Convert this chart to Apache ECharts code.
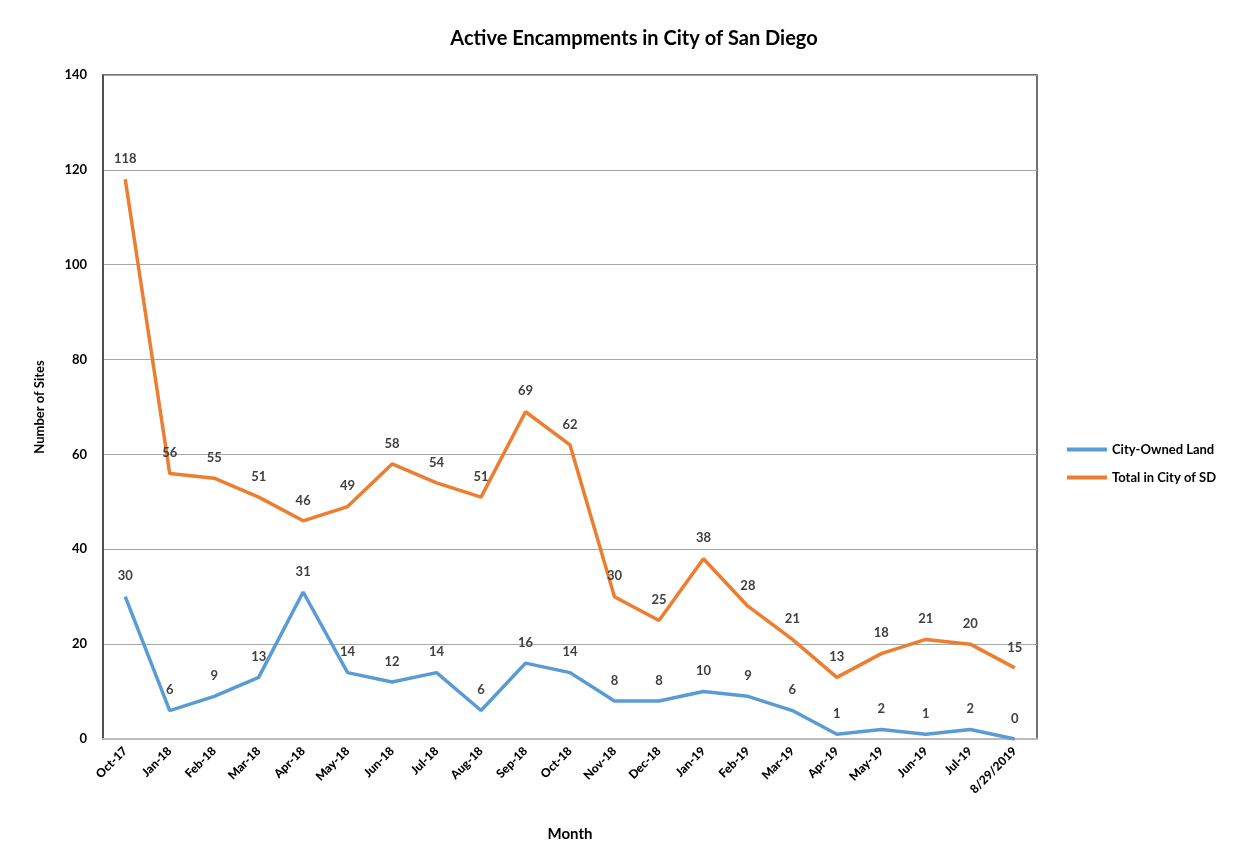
<!DOCTYPE html>
<html>
<head>
<meta charset="utf-8">
<script src="https://cdn.jsdelivr.net/npm/echarts@6/dist/echarts.min.js"></script>
<style>
  html, body { margin: 0; padding: 0; background: #fff; }
  #main { width: 1237px; height: 867px; }
</style>
</head>
<body>
<div id="main"></div>
<script>
// 月份
const months = ['Oct-17', 'Jan-18', 'Feb-18', 'Mar-18', 'Apr-18', 'May-18', 'Jun-18', 'Jul-18',
  'Aug-18', 'Sep-18', 'Oct-18', 'Nov-18', 'Dec-18', 'Jan-19', 'Feb-19', 'Mar-19', 'Apr-19',
  'May-19', 'Jun-19', 'Jul-19', '8/29/2019']

const cityOwned = [30, 6, 9, 13, 31, 14, 12, 14, 6, 16, 14, 8, 8, 10, 9, 6, 1, 2, 1, 2, 0]
const totalSD = [118, 56, 55, 51, 46, 49, 58, 54, 51, 69, 62, 30, 25, 38, 28, 21, 13, 18, 21, 20, 15]

let chart = echarts.init(document.querySelector('#main'))

const font = 'Lato'
const labelStyle = {
  show: true,
  position: 'top',
  distance: 14,
  color: '#404040',
  fontSize: 13,
  fontWeight: 'bold',
  fontFamily: font
}

let option = {
  animation: false,
  title: {
    text: 'Active Encampments in City of San Diego',
    left: 629,
    top: 24,
    textAlign: 'center',
    textStyle: { color: '#000', fontSize: 20, fontWeight: 'bold', fontFamily: font }
  },
  color: ['#5B9BD5', '#ED7D31'],
  legend: {
    orient: 'vertical',
    left: 1062,
    top: 438,
    itemGap: 15,
    itemWidth: 40,
    itemHeight: 4,
    icon: 'rect',
    textStyle: { color: '#000', fontSize: 13, fontWeight: 'bold', fontFamily: font }
  },
  // 绘图区边框
  grid: {
    left: 103, right: 200, top: 75, bottom: 128,
    show: true,
    borderColor: '#444',
    borderWidth: 1.5
  },
  xAxis: {
    type: 'category',
    data: months,
    boundaryGap: true,
    name: 'Month',
    nameLocation: 'middle',
    nameGap: 88,
    nameTextStyle: { color: '#000', fontSize: 15, fontWeight: 'bold', fontFamily: font },
    axisLine: { lineStyle: { color: '#bbb', width: 2 } },
    axisTick: { show: false },
    axisLabel: {
      interval: 0,
      rotate: 45,
      color: '#000',
      fontSize: 12,
      fontWeight: 900,
      fontFamily: font,
      margin: 10
    }
  },
  yAxis: {
    type: 'value',
    min: 0,
    max: 140,
    interval: 20,
    name: 'Number of Sites',
    nameLocation: 'middle',
    nameGap: 57,
    nameTextStyle: { color: '#000', fontSize: 13, fontWeight: 'bold', fontFamily: font },
    axisLine: { show: true, lineStyle: { color: '#444', width: 1.5 } },
    axisTick: { show: false },
    axisLabel: { color: '#000', fontSize: 13, fontWeight: 'bold', fontFamily: font, margin: 16 },
    splitLine: { lineStyle: { color: '#a6a6a6', width: 1 } }
  },
  series: [
    {
      type: 'line',
      name: 'City-Owned Land',
      data: cityOwned,
      symbol: 'circle',
      symbolSize: 0,
      showSymbol: true,
      lineStyle: { width: 3.5 },
      label: labelStyle
    },
    {
      type: 'line',
      name: 'Total in City of SD',
      data: totalSD,
      symbol: 'circle',
      symbolSize: 0,
      showSymbol: true,
      lineStyle: { width: 3.5 },
      label: labelStyle
    }
  ]
}
chart.setOption(option)
</script>
</body>
</html>
